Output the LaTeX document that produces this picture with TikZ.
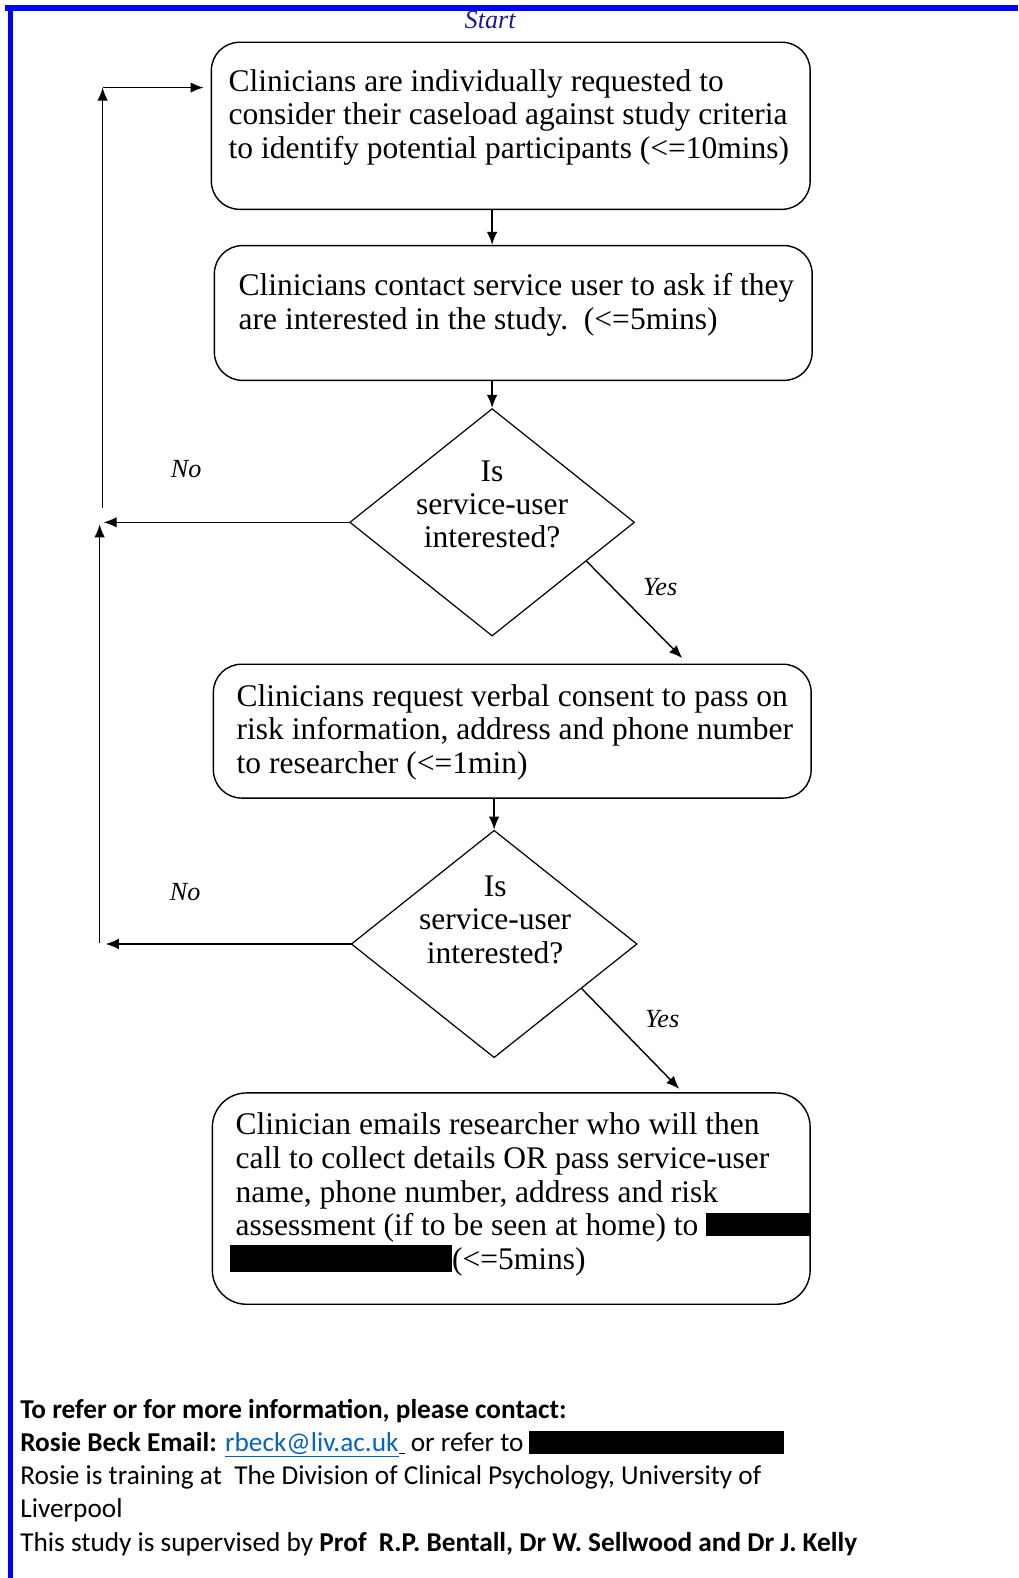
\documentclass[tikz,border=0pt]{standalone}
\usepackage{fontspec}
\setmainfont{Liberation Serif}
\newfontfamily\calfont{Carlito}
\usetikzlibrary{shapes.geometric,arrows.meta,calc}
\definecolor{startblue}{RGB}{25,25,150}
\definecolor{linkblue}{RGB}{5,99,193}
\begin{document}
\begin{tikzpicture}[x=1pt,y=-1pt,
  box/.style={draw, line width=1.4pt, rounded corners=28pt, inner sep=0pt},
  dia/.style={draw, diamond, line width=1.2pt, inner sep=0pt},
  arr/.style={-{Latex[length=13pt,width=10.5pt]}, line width=1.4pt},
  txt/.style={align=left, inner sep=0pt, anchor=north west, font=\fontsize{31.3}{33.5}\selectfont},
  dtxt/.style={align=center, inner sep=0pt, font=\fontsize{31.3}{33}\selectfont},
  lbl/.style={inner sep=0pt, font=\fontsize{26}{30}\selectfont\itshape},
  redact/.style={fill=black}]
\useasboundingbox (0,0) rectangle (1012,1568);
% blue frame
\fill[blue] (5,5) rectangle (1012,11);
\fill[blue] (7.5,5) rectangle (12.5,1568);
\node[inner sep=0pt, text=startblue, font=\fontsize{26}{30}\selectfont\itshape] (start) at (487,20) {Start};

% boxes
\node[box, minimum width=595pt, minimum height=166pt] (b1) at (507.5,125) {};
\node[box, minimum width=594pt, minimum height=134pt] (b2) at (510,311) {};
\node[box, minimum width=594pt, minimum height=133pt] (b3) at (509,726.5) {};
\node[box, minimum width=594pt, minimum height=210pt, rounded corners=34pt] (b4) at (508,1191) {};

\node[txt] (t1) at (227,67) {\strut Clinicians are individually requested to\\consider their caseload against study criteria\\to identify potential participants (<=10mins)};
\node[txt] (t2) at (237,270) {\strut Clinicians contact service user to ask if they\\are interested in the study.\ \ (<=5mins)};
\node[txt] (t3) at (235,678) {\strut Clinicians request verbal consent to pass on\\risk information, address and phone number\\to researcher (<=1min)};
\node[txt] (t4) at (234,1104) {\strut Clinician emails researcher who will then\\call to collect details OR pass service-user\\name, phone number, address and risk\\assessment (if to be seen at home) to\\\hspace*{215pt}(<=5mins)};
\fill[redact] (702,1205) rectangle (805,1228);
\fill[redact] (229,1237) rectangle (449,1264);

% diamonds
\node[dia, minimum width=283pt, minimum height=226pt] (d1) at (489,519) {};
\node[dtxt] (dt1) at (489,501) {Is\\service-user\\interested?};
\node[dia, minimum width=284pt, minimum height=226pt] (d2) at (491,938) {};
\node[dtxt] (dt2) at (492,914) {Is\\service-user\\interested?};

% main flow arrows
\draw[arr] (b1.south -| d1.north) -- (b2.north -| d1.north);
\draw[arr] (b2.south -| d1.north) -- (d1.north);
\draw[arr] (b3.south -| d2.north) -- (d2.north);

% yes arrows
\coordinate (y1end) at (678,654);
\coordinate (y2end) at (675,1082);
\draw[arr] ($(d1.east)!0.34!(d1.south)$) -- (y1end);
\draw[arr] ($(d2.east)!0.39!(d2.south)$) -- (y2end);
\node[lbl] (yes1) at (656,583) {Yes};
\node[lbl] (yes2) at (658,1013) {Yes};

% no arrows and return loop
\coordinate (L1) at (103,0);
\coordinate (L2) at (105,0);
\draw[arr] (d1.west) -- (d1.west -| L1);
\draw[arr] (d2.west) -- (d2.west -| L2);
\node[lbl] (no1) at (185,466) {No};
\node[lbl] (no2) at (184,886) {No};

\coordinate (up0) at (102,505);
\coordinate (up1) at (102,87);
\coordinate (lo0) at (99,937);
\coordinate (lo1) at (99,521);
\draw[arr] (up0) -- (up1);
\draw[arr, shorten >=7pt] (up1) -- (up1 -| b1.west);
\draw[arr] (lo0) -- (lo1);

% footer
\node[anchor=north west, inner sep=0pt, align=left, font=\calfont\fontsize{27.1}{33}\selectfont] (info) at (20,1386) {\strut\textbf{To refer or for more information, please contact:}\\
\textbf{Rosie Beck Email:} \textcolor{linkblue}{\underline{rbeck@liv.ac.uk}}\underline{\ } or refer to\\
Rosie is training at\ \ The Division of Clinical Psychology, University of\\
Liverpool\\
This study is supervised by \textbf{Prof\ \ R.P. Bentall, Dr W. Sellwood and Dr J. Kelly}};
\fill[redact] (526,1422) rectangle (779,1445);
\end{tikzpicture}
\end{document}
